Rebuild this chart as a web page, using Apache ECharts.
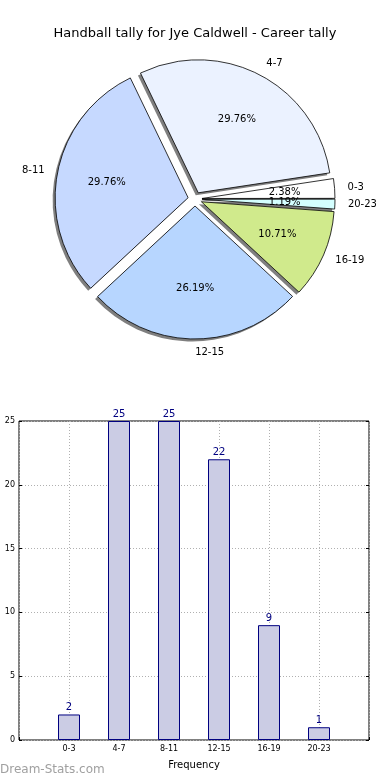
<!DOCTYPE html>
<html>
<head>
<meta charset="utf-8">
<script src="https://cdn.jsdelivr.net/npm/echarts@6/dist/echarts.min.js"></script>
<style>
html,body{margin:0;padding:0;background:#fff;}
#c{width:390px;height:780px;}
</style>
</head>
<body>
<div id="c"></div>
<script>
var titleText = 'Handball tally for Jye Caldwell - Career tally';
var categories = ['0-3', '4-7', '8-11', '12-15', '16-19', '20-23'];
var counts = [2, 25, 25, 22, 9, 1];
var sliceColors = ['#ffffff', '#ebf2ff', '#c6d9ff', '#b7d6ff', '#d0ea8c', '#d4ffff'];
var yTicks = [0, 5, 10, 15, 20, 25];
var xAxisName = 'Frequency';
var yAxisName = 'Goal Tally';
var watermark = 'Dream-Stats.com';

var FONT = 'DejaVu Sans';
var total = counts.reduce(function (a, b) { return a + b; }, 0);
var R = 133;
var CX = 195, CY = 199;
var OFF = 7;
var START = 0.05;
var LABEL_R = R * 1.2;

function pctText(p) { return (p.value / total * 100).toFixed(2) + '%'; }

var pieData = categories.map(function (c, i) {
  return { name: c, value: counts[i], selected: true, itemStyle: { color: sliceColors[i] } };
});
var pieShadowData = categories.map(function (c, i) {
  return { name: c, value: counts[i], selected: true };
});
// even-index and odd-index slices get their percentage label from separate overlay series,
// so neighbouring thin-slice labels are not suppressed against each other
function overlayData(parity) {
  return categories.map(function (c, i) {
    return { name: c, value: counts[i], selected: true, label: { show: i % 2 === parity } };
  });
}

function overlaySeries(parity) {
  return {
    type: 'pie',
    center: [CX, CY],
    radius: [0, LABEL_R],
    startAngle: START,
    clockwise: false,
    selectedMode: 'multiple',
    selectedOffset: OFF,
    avoidLabelOverlap: false,
    minShowLabelAngle: 0,
    silent: true,
    data: overlayData(parity),
    itemStyle: { color: 'rgba(0,0,0,0)', borderWidth: 0 },
    label: {
      position: 'inside', formatter: pctText,
      fontFamily: FONT, fontSize: 10, color: '#000'
    },
    labelLayout: { hideOverlap: false },
    labelLine: { show: false },
    emphasis: { disabled: true },
    z: 3
  };
}

var barCats = [''].concat(categories).concat(['']);
var barVals = [null].concat(counts).concat([null]);

var chart = echarts.init(document.getElementById('c'), null, { renderer: 'canvas' });
chart.setOption({
  animation: false,
  backgroundColor: '#fff',
  title: {
    text: titleText, left: 'center', top: 22,
    textStyle: { fontFamily: FONT, fontSize: 13, fontWeight: 'normal', color: '#000' }
  },
  graphic: [{
    type: 'text', left: 0, top: 764,
    style: { text: watermark, fontFamily: FONT, fontSize: 12, fontWeight: 'normal', fill: '#a0a0a0' }
  }],
  grid: {
    left: 19, right: 21, top: 421, bottom: 40,
    containLabel: false, outerBoundsMode: 'none',
    show: true, borderColor: '#000', borderWidth: 1, backgroundColor: 'transparent'
  },
  xAxis: [{
    type: 'category', data: barCats, boundaryGap: false,
    name: xAxisName, nameLocation: 'middle', nameGap: 20,
    nameTextStyle: { fontFamily: FONT, fontSize: 10, color: '#000' },
    axisLine: { show: false },
    axisTick: { show: true, inside: true, length: 3, interval: 0, lineStyle: { color: '#000' } },
    axisLabel: { fontFamily: FONT, fontSize: 8, color: '#000', margin: 5, interval: 0 },
    splitLine: { show: true, interval: 0, lineStyle: { color: '#b0b0b0', type: [1, 2], width: 1 } }
  }],
  yAxis: [{
    type: 'value', min: 0, max: 25, interval: 5,
    name: yAxisName, nameLocation: 'middle', nameGap: 20,
    nameTextStyle: { fontFamily: FONT, fontSize: 9, color: '#000' },
    axisLine: { show: false },
    axisTick: { show: true, inside: true, length: 3, lineStyle: { color: '#000' } },
    axisLabel: { fontFamily: FONT, fontSize: 8, color: '#000', margin: 4 },
    splitLine: { show: true, lineStyle: { color: '#b0b0b0', type: [1, 2], width: 1 } }
  }, {
    type: 'value', min: 0, max: 25, interval: 5, position: 'right',
    axisLine: { show: false },
    axisTick: { show: true, inside: true, length: 3, lineStyle: { color: '#000' } },
    axisLabel: { show: false },
    splitLine: { show: false }
  }],
  series: [{
    type: 'pie',
    center: [CX - 2.5, CY + 2.5],
    radius: [0, R],
    startAngle: START,
    clockwise: false,
    selectedMode: 'multiple',
    selectedOffset: OFF,
    avoidLabelOverlap: false,
    silent: true,
    data: pieShadowData,
    itemStyle: { color: '#7f7f7f', borderWidth: 0 },
    label: { show: false },
    labelLine: { show: false },
    emphasis: { disabled: true },
    z: 1
  }, {
    type: 'pie',
    center: [CX, CY],
    radius: [0, R],
    startAngle: START,
    clockwise: false,
    selectedMode: 'multiple',
    selectedOffset: OFF,
    avoidLabelOverlap: false,
    minShowLabelAngle: 0,
    data: pieData,
    itemStyle: { borderColor: '#000', borderWidth: 0.8 },
    label: {
      show: true, position: 'outside', formatter: '{b}',
      fontFamily: FONT, fontSize: 10, color: '#000', distanceToLabelLine: 0
    },
    labelLine: { show: false, length: Math.round(R * 0.1), length2: 0 },
    emphasis: { disabled: true },
    z: 2
  }, overlaySeries(0), overlaySeries(1), {
    type: 'bar',
    xAxisIndex: 0, yAxisIndex: 0,
    data: barVals,
    barWidth: 22,
    itemStyle: { color: '#cbcce4', borderColor: '#000080', borderWidth: 1 },
    label: {
      show: true, position: 'top', distance: 2,
      fontFamily: FONT, fontSize: 10, color: '#000080'
    },
    emphasis: { disabled: true },
    z: 3
  }]
});
</script>
</body>
</html>
